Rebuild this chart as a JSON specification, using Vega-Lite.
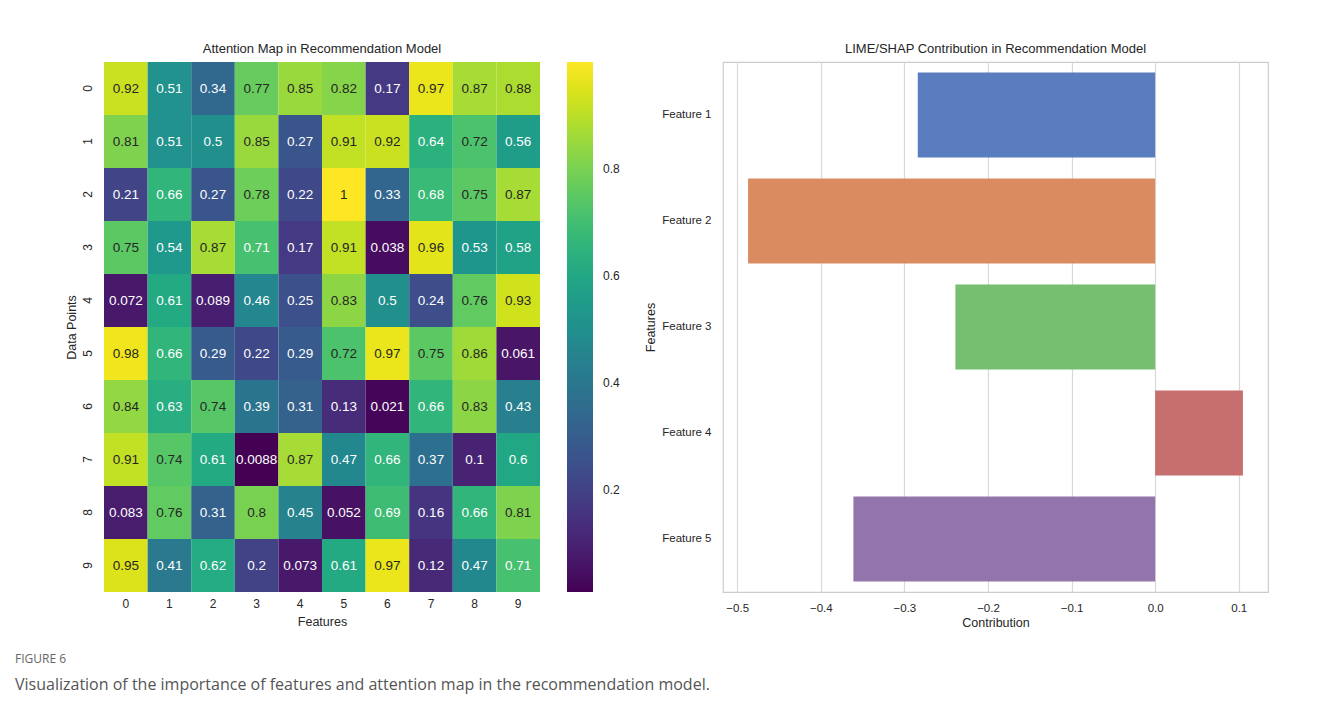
{
  "$schema": "https://vega.github.io/schema/vega-lite/v6.json",
  "background": "white",
  "padding": {"left": 15, "top": 42, "right": 10, "bottom": 10},
  "config": {
    "font": "Liberation Sans",
    "view": {"stroke": null},
    "title": {"fontSize": 13, "fontWeight": "normal", "color": "#262626", "offset": 6},
    "axis": {"labelFont": "Liberation Sans", "titleFont": "Liberation Sans", "labelFontSize": 12, "titleFontSize": 12.5, "titleFontWeight": "normal", "labelColor": "#262626", "titleColor": "#262626"}
  },
  "title": {
    "text": "FIGURE 6",
    "subtitle": "Visualization of the importance of features and attention map in the recommendation model.",
    "orient": "bottom",
    "anchor": "start",
    "frame": "bounds",
    "dx": -50,
    "offset": 24,
    "font": "Open Sans",
    "fontSize": 12,
    "fontWeight": "normal",
    "color": "#666666",
    "subtitleFont": "Open Sans",
    "subtitleFontSize": 16,
    "subtitleColor": "#555555",
    "subtitlePadding": 11
  },
  "datasets": {
    "attention": [
      {"row": 0, "col": 0, "value": 0.92}, {"row": 0, "col": 1, "value": 0.51}, {"row": 0, "col": 2, "value": 0.34}, {"row": 0, "col": 3, "value": 0.77}, {"row": 0, "col": 4, "value": 0.85}, {"row": 0, "col": 5, "value": 0.82}, {"row": 0, "col": 6, "value": 0.17}, {"row": 0, "col": 7, "value": 0.97}, {"row": 0, "col": 8, "value": 0.87}, {"row": 0, "col": 9, "value": 0.88},
      {"row": 1, "col": 0, "value": 0.81}, {"row": 1, "col": 1, "value": 0.51}, {"row": 1, "col": 2, "value": 0.5}, {"row": 1, "col": 3, "value": 0.85}, {"row": 1, "col": 4, "value": 0.27}, {"row": 1, "col": 5, "value": 0.91}, {"row": 1, "col": 6, "value": 0.92}, {"row": 1, "col": 7, "value": 0.64}, {"row": 1, "col": 8, "value": 0.72}, {"row": 1, "col": 9, "value": 0.56},
      {"row": 2, "col": 0, "value": 0.21}, {"row": 2, "col": 1, "value": 0.66}, {"row": 2, "col": 2, "value": 0.27}, {"row": 2, "col": 3, "value": 0.78}, {"row": 2, "col": 4, "value": 0.22}, {"row": 2, "col": 5, "value": 1}, {"row": 2, "col": 6, "value": 0.33}, {"row": 2, "col": 7, "value": 0.68}, {"row": 2, "col": 8, "value": 0.75}, {"row": 2, "col": 9, "value": 0.87},
      {"row": 3, "col": 0, "value": 0.75}, {"row": 3, "col": 1, "value": 0.54}, {"row": 3, "col": 2, "value": 0.87}, {"row": 3, "col": 3, "value": 0.71}, {"row": 3, "col": 4, "value": 0.17}, {"row": 3, "col": 5, "value": 0.91}, {"row": 3, "col": 6, "value": 0.038}, {"row": 3, "col": 7, "value": 0.96}, {"row": 3, "col": 8, "value": 0.53}, {"row": 3, "col": 9, "value": 0.58},
      {"row": 4, "col": 0, "value": 0.072}, {"row": 4, "col": 1, "value": 0.61}, {"row": 4, "col": 2, "value": 0.089}, {"row": 4, "col": 3, "value": 0.46}, {"row": 4, "col": 4, "value": 0.25}, {"row": 4, "col": 5, "value": 0.83}, {"row": 4, "col": 6, "value": 0.5}, {"row": 4, "col": 7, "value": 0.24}, {"row": 4, "col": 8, "value": 0.76}, {"row": 4, "col": 9, "value": 0.93},
      {"row": 5, "col": 0, "value": 0.98}, {"row": 5, "col": 1, "value": 0.66}, {"row": 5, "col": 2, "value": 0.29}, {"row": 5, "col": 3, "value": 0.22}, {"row": 5, "col": 4, "value": 0.29}, {"row": 5, "col": 5, "value": 0.72}, {"row": 5, "col": 6, "value": 0.97}, {"row": 5, "col": 7, "value": 0.75}, {"row": 5, "col": 8, "value": 0.86}, {"row": 5, "col": 9, "value": 0.061},
      {"row": 6, "col": 0, "value": 0.84}, {"row": 6, "col": 1, "value": 0.63}, {"row": 6, "col": 2, "value": 0.74}, {"row": 6, "col": 3, "value": 0.39}, {"row": 6, "col": 4, "value": 0.31}, {"row": 6, "col": 5, "value": 0.13}, {"row": 6, "col": 6, "value": 0.021}, {"row": 6, "col": 7, "value": 0.66}, {"row": 6, "col": 8, "value": 0.83}, {"row": 6, "col": 9, "value": 0.43},
      {"row": 7, "col": 0, "value": 0.91}, {"row": 7, "col": 1, "value": 0.74}, {"row": 7, "col": 2, "value": 0.61}, {"row": 7, "col": 3, "value": 0.0088}, {"row": 7, "col": 4, "value": 0.87}, {"row": 7, "col": 5, "value": 0.47}, {"row": 7, "col": 6, "value": 0.66}, {"row": 7, "col": 7, "value": 0.37}, {"row": 7, "col": 8, "value": 0.1}, {"row": 7, "col": 9, "value": 0.6},
      {"row": 8, "col": 0, "value": 0.083}, {"row": 8, "col": 1, "value": 0.76}, {"row": 8, "col": 2, "value": 0.31}, {"row": 8, "col": 3, "value": 0.8}, {"row": 8, "col": 4, "value": 0.45}, {"row": 8, "col": 5, "value": 0.052}, {"row": 8, "col": 6, "value": 0.69}, {"row": 8, "col": 7, "value": 0.16}, {"row": 8, "col": 8, "value": 0.66}, {"row": 8, "col": 9, "value": 0.81},
      {"row": 9, "col": 0, "value": 0.95}, {"row": 9, "col": 1, "value": 0.41}, {"row": 9, "col": 2, "value": 0.62}, {"row": 9, "col": 3, "value": 0.2}, {"row": 9, "col": 4, "value": 0.073}, {"row": 9, "col": 5, "value": 0.61}, {"row": 9, "col": 6, "value": 0.97}, {"row": 9, "col": 7, "value": 0.12}, {"row": 9, "col": 8, "value": 0.47}, {"row": 9, "col": 9, "value": 0.71}
    ],
    "contribution": [
      {"feature": "Feature 1", "contribution": -0.284},
      {"feature": "Feature 2", "contribution": -0.487},
      {"feature": "Feature 3", "contribution": -0.239},
      {"feature": "Feature 4", "contribution": 0.105},
      {"feature": "Feature 5", "contribution": -0.361}
    ]
  },
  "hconcat": [
    {
      "title": "Attention Map in Recommendation Model",
      "width": 436,
      "height": 530,
      "data": {"name": "attention"},
      "encoding": {
        "x": {"field": "col", "type": "ordinal", "title": "Features",
          "axis": {"labelAngle": 0, "ticks": false, "domain": false, "labelPadding": 6, "titlePadding": 6}},
        "y": {"field": "row", "type": "ordinal", "title": "Data Points",
          "axis": {"labelAngle": -90, "labelAlign": "center", "labelBaseline": "bottom", "ticks": false, "domain": false, "labelPadding": 10, "titlePadding": 3}}
      },
      "layer": [
        {
          "mark": {"type": "rect", "strokeWidth": 0},
          "encoding": {
            "color": {"field": "value", "type": "quantitative",
              "scale": {"scheme": "viridis", "domain": [0.0088, 1]},
              "legend": {"title": null, "orient": "right", "offset": 27, "gradientLength": 530, "gradientThickness": 26,
                "values": [0.2, 0.4, 0.6, 0.8], "labelFontSize": 12, "labelColor": "#262626", "labelFont": "Liberation Sans",
                "labelOffset": 10, "gradientStrokeWidth": 0, "padding": 0}}
          }
        },
        {
          "mark": {"type": "text", "fontSize": 13.5, "font": "Liberation Sans"},
          "encoding": {
            "text": {"field": "value", "type": "nominal"},
            "color": {"condition": {"test": "datum.value > 0.715", "value": "#262626"}, "value": "#ffffff"}
          }
        }
      ]
    },
    {
      "title": "LIME/SHAP Contribution in Recommendation Model",
      "width": 545,
      "height": 530,
      "data": {"name": "contribution"},
      "view": {"stroke": "#cccccc", "strokeWidth": 1.2},
      "mark": {"type": "bar"},
      "encoding": {
        "y": {"field": "feature", "type": "nominal", "title": "Features",
          "scale": {"paddingInner": 0.2, "paddingOuter": 0.1},
          "axis": {"ticks": false, "domain": false, "grid": false, "labelPadding": 12, "labelFontSize": 11.5, "titlePadding": 4}},
        "x": {"field": "contribution", "type": "quantitative", "title": "Contribution",
          "scale": {"domain": [-0.517, 0.135], "nice": false, "zero": false},
          "axis": {"values": [-0.5, -0.4, -0.3, -0.2, -0.1, 0.0, 0.1], "format": ".1f", "ticks": false, "domain": false,
            "grid": true, "gridColor": "#d9d9d9", "gridWidth": 1.2, "labelPadding": 10, "labelFontSize": 11.5, "titlePadding": 3}},
        "color": {"field": "feature", "type": "nominal", "legend": null,
          "scale": {"domain": ["Feature 1", "Feature 2", "Feature 3", "Feature 4", "Feature 5"],
            "range": ["#597dbf", "#da8b5f", "#76bf71", "#c76e6e", "#9475ab"]}}
      }
    }
  ],
  "spacing": 183,
  "bounds": "flush"
}
